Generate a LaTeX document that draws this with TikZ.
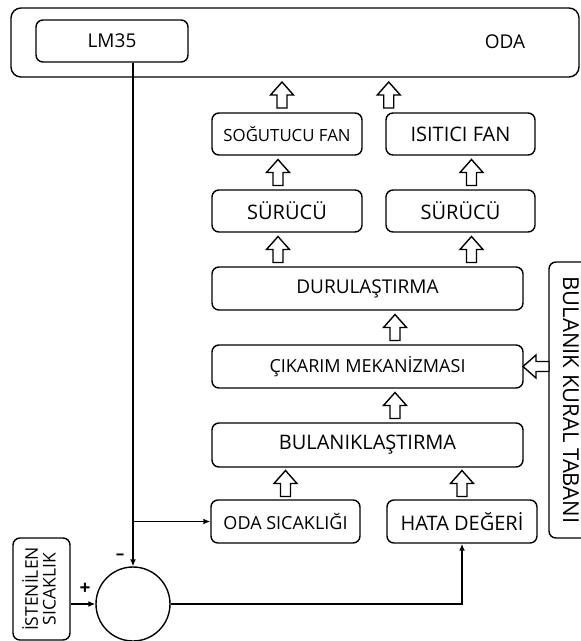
\documentclass[tikz,border=0pt]{standalone}
\usepackage{fontspec}
\setmainfont{Open Sans}
\usetikzlibrary{arrows.meta,calc}

\begin{document}
\begin{tikzpicture}[x=1pt, y=-1pt, >={Latex[length=7pt,width=6pt]}]
\tikzset{
  blok/.style={draw, line width=1.4pt, rounded corners=7pt, inner sep=0pt, font=\fontsize{19}{22}\selectfont},
  hat/.style={line width=1.5pt},
  uparr/.pic={\draw [line width=1.4pt, fill=white] (-5,13) -- (-5,0) -- (-11.5,0) -- (0,-13) -- (11.5,0) -- (5,0) -- (5,13) -- cycle;},
}
\useasboundingbox (0,0) rectangle (581,641);
%\draw [lightgray, dashed] (0,0) grid[step=50] (581,641);

% oda
\node [blok, rounded corners=10pt, minimum width=568pt, minimum height=69pt] (oda) at (295,42.5) {};
\node [font=\fontsize{19}{22}\selectfont] (odayazi) at (505,42) {ODA};
\node [blok, minimum width=152pt, minimum height=42pt] (lm35) at (112,41) {LM35};

% fanlar ve suruculer
\node [blok, minimum width=150pt, minimum height=42pt, font=\fontsize{16.8}{20}\selectfont] (sogutucu) at (287,134) {SOĞUTUCU FAN};
\node [blok, minimum width=149pt, minimum height=42pt, font=\fontsize{20}{22}\selectfont] (isitici) at (460.5,134) {ISITICI FAN};
\node [blok, minimum width=150pt, minimum height=42pt, font=\fontsize{20}{22}\selectfont] (surucu1) at (287,211) {SÜRÜCÜ};
\node [blok, minimum width=149pt, minimum height=42pt, font=\fontsize{20}{22}\selectfont] (surucu2) at (460.5,211) {SÜRÜCÜ};

% bulanik denetleyici
\node [blok, minimum width=311pt, minimum height=43pt] (durulastirma) at (367.5,288.5) {DURULAŞTIRMA};
\node [blok, minimum width=311pt, minimum height=43pt, font=\fontsize{18}{22}\selectfont] (cikarim) at (367.5,366.5) {ÇIKARIM MEKANİZMASI};
\node [blok, minimum width=311pt, minimum height=44pt, font=\fontsize{20}{22}\selectfont] (bulaniklastirma) at (367.5,445) {BULANIKLAŞTIRMA};
\node [blok, minimum width=149pt, minimum height=43pt, font=\fontsize{18}{22}\selectfont] (odasic) at (285.5,521.5) {ODA SICAKLIĞI};
\node [blok, minimum width=150pt, minimum height=43pt, font=\fontsize{20}{22}\selectfont] (hata) at (462,521.5) {HATA DEĞERİ};
\node [blok, minimum width=44pt, minimum height=276pt, font=\fontsize{22}{24}\selectfont] (kural) at (571,400) {\rotatebox{-90}{BULANIK KURAL TABANI}};

% giris ve toplama
\node [blok, minimum width=57pt, minimum height=102pt, font=\fontsize{17.5}{17}\selectfont] (istenilen) at (41.5,589)
  {\rotatebox{90}{\begin{tabular}{@{}c@{}}İSTENİLEN\\SICAKLIK\end{tabular}}};
\node [draw, circle, line width=1.4pt, minimum size=74pt] (topla) at (133,604) {};
\node [font=\bfseries\fontsize{17}{17}\selectfont] (eksi) at (120,557) {–};
\node [font=\bfseries\fontsize{19}{19}\selectfont] (arti) at (85,589) {+};

% sinyal hatlari
\draw [hat, ->] (lm35.south -| topla.north) -- (topla.north);
\draw [hat, ->] (odasic.west -| topla.north) -- (odasic.west);
\draw [hat, ->] (istenilen.east |- topla.west) -- (topla.west);
\draw [hat, ->] (topla.east) -| (hata.south);

% blok oklar
\pic at ($(oda.south)!.5!(sogutucu.north)+(-9,0)$) {uparr};
\pic at ($(oda.south)!.5!(isitici.north)+(11,0)$) {uparr};
\pic at ($(sogutucu.south)!.5!(surucu1.north)+(-9,0)$) {uparr};
\pic at ($(isitici.south)!.5!(surucu2.north)+(11,0)$) {uparr};
\pic at ($(surucu1.south)!.5!(durulastirma.north -| surucu1.south)+(-9,0)$) {uparr};
\pic at ($(surucu2.south)!.5!(durulastirma.north -| surucu2.south)+(11,0)$) {uparr};
\pic at ($(durulastirma.south)!.5!(cikarim.north)+(27.5,0)$) {uparr};
\pic at ($(cikarim.south)!.5!(bulaniklastirma.north)+(27.5,0)$) {uparr};
\pic at ($(bulaniklastirma.south -| odasic.north)!.5!(odasic.north)$) {uparr};
\pic at ($(bulaniklastirma.south -| hata.north)!.5!(hata.north)$) {uparr};
\pic [rotate=90] at ($(cikarim.east)!.5!(cikarim.east -| kural.west)$) {uparr};

\end{tikzpicture}
\end{document}
